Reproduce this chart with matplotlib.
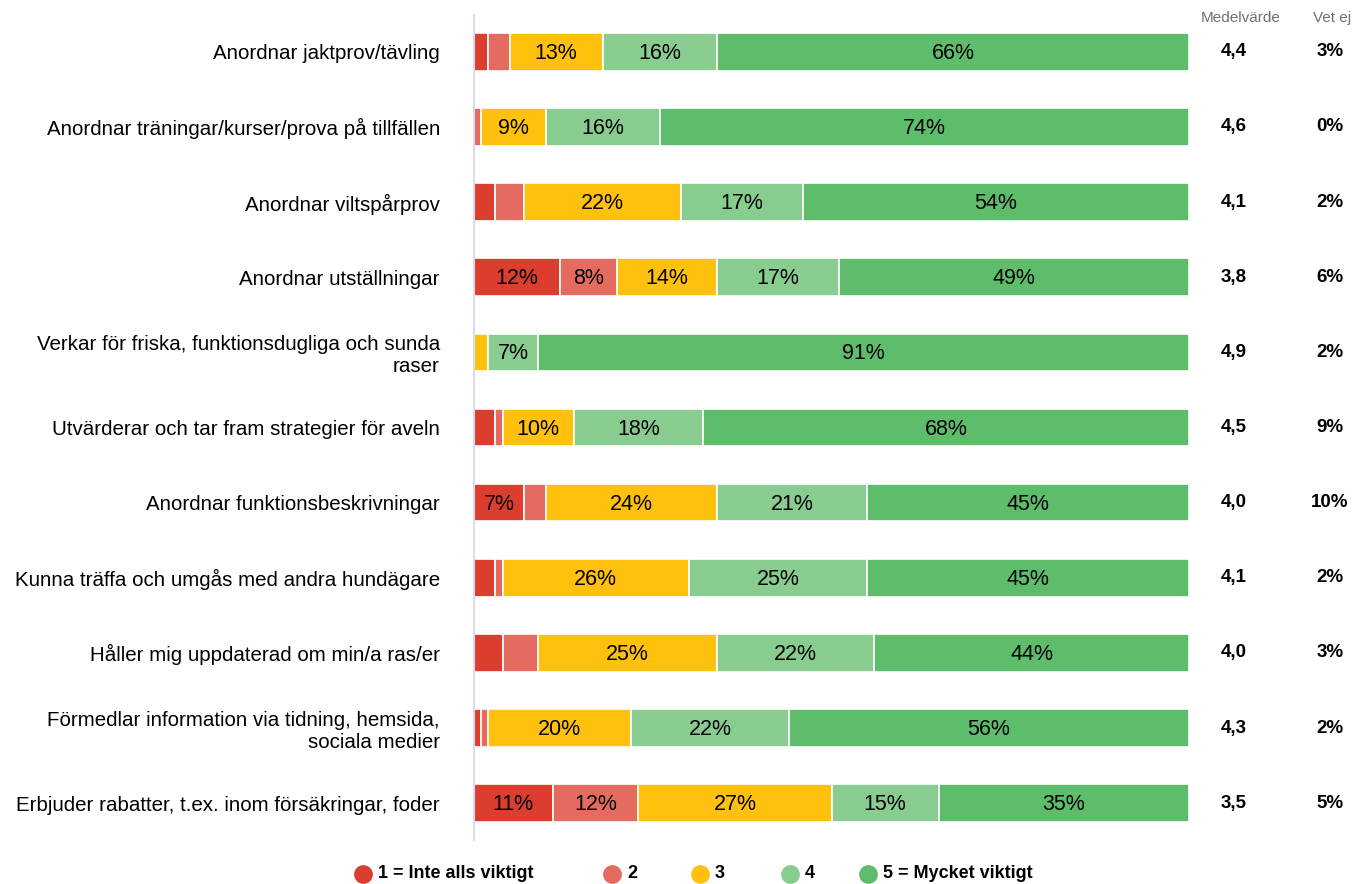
import matplotlib.pyplot as plt
from matplotlib.lines import Line2D

plt.rcParams['font.family'] = ['Liberation Sans', 'DejaVu Sans']

# ---- data (percent per answer, from top row to bottom row) ----
categories = [
    "Anordnar jaktprov/tävling",
    "Anordnar träningar/kurser/prova på tillfällen",
    "Anordnar viltspårprov",
    "Anordnar utställningar",
    "Verkar för friska, funktionsdugliga och sunda\nraser",
    "Utvärderar och tar fram strategier för aveln",
    "Anordnar funktionsbeskrivningar",
    "Kunna träffa och umgås med andra hundägare",
    "Håller mig uppdaterad om min/a ras/er",
    "Förmedlar information via tidning, hemsida,\nsociala medier",
    "Erbjuder rabatter, t.ex. inom försäkringar, foder",
]
score1 = [2, 0, 3, 12, 0, 3, 7, 3, 4, 1, 11]
score2 = [3, 1, 4, 8, 0, 1, 3, 1, 5, 1, 12]
score3 = [13, 9, 22, 14, 2, 10, 24, 26, 25, 20, 27]
score4 = [16, 16, 17, 17, 7, 18, 21, 25, 22, 22, 15]
score5 = [66, 74, 54, 49, 91, 68, 45, 45, 44, 56, 35]
medel = ["4,4", "4,6", "4,1", "3,8", "4,9", "4,5", "4,0", "4,1", "4,0", "4,3", "3,5"]
vet_ej = [3, 0, 2, 6, 2, 9, 10, 2, 3, 2, 5]

legend_labels = ["1 = Inte alls viktigt", "2", "3", "4", "5 = Mycket viktigt"]
colors = ["#DB3E2E", "#E56B61", "#FFC10E", "#88CC90", "#5EBD6A"]

W, H = 1360, 884
fig = plt.figure(figsize=(W / 100, H / 100), dpi=100)
ax = fig.add_axes([474 / W, 1 - 840 / H, 715 / W, 825 / H])

series = [score1, score2, score3, score4, score5]
rows = list(range(len(categories)))
left = [0] * len(categories)
for vals, col in zip(series, colors):
    bars = ax.barh(rows, vals, left=left, height=0.5, color=col,
                   edgecolor="white", linewidth=1.2)
    for b, v in zip(bars, vals):
        if v >= 7:
            ax.text(b.get_x() + b.get_width() / 2, b.get_y() + b.get_height() / 2 + 0.02,
                    f"{v}%", ha="center", va="center", fontsize=15.5, color="black")
    left = [l + v for l, v in zip(left, vals)]

ax.set_xlim(0, 100)
ax.set_ylim(len(categories) - 0.51, -0.49)
ax.set_yticks(rows)
ax.set_yticklabels(categories, fontsize=14.8, ha="right")
ax.tick_params(axis="y", length=0, pad=24.5)
ax.set_xticks([])
for s in ["top", "right", "bottom"]:
    ax.spines[s].set_visible(False)
ax.spines["left"].set_color("#D9DCEF")
ax.spines["left"].set_linewidth(1.5)

# side columns
for r, m, v in zip(rows, medel, vet_ej):
    ax.text(106.3, r, m, ha="center", va="center", fontsize=13.5,
            fontweight="bold", clip_on=False)
    ax.text(119.7, r, f"{v}%", ha="center", va="center", fontsize=13.5,
            fontweight="bold", clip_on=False)
fig.text(1241 / W, 1 - 18 / H, "Medelvärde", ha="center", va="center",
         fontsize=11, color="#707070")
fig.text(1332 / W, 1 - 18 / H, "Vet ej", ha="center", va="center",
         fontsize=11, color="#707070")

# legend
leg_x = [363, 612, 700, 790, 868]
leg_y = 1 - 874 / H
for x, lab, col in zip(leg_x, legend_labels, colors):
    fig.add_artist(Line2D([x / W], [leg_y], marker="o", markersize=12.5,
                          color=col, linestyle="none"))
    fig.text((x + 15) / W, leg_y, lab, ha="left", va="center",
             fontsize=13, fontweight="bold")

fig.savefig("out.png", dpi=100)
